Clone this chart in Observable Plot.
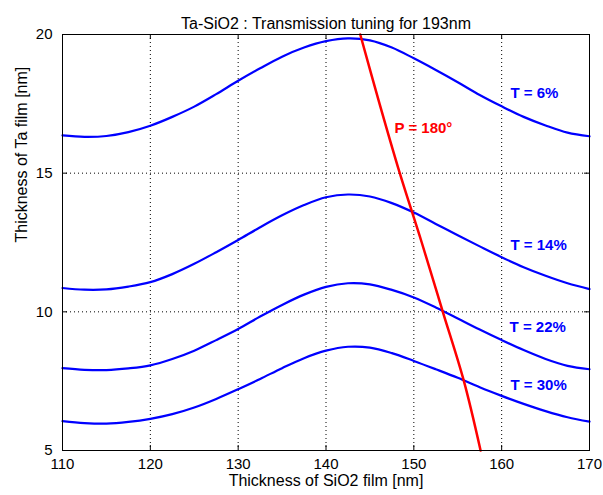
<!DOCTYPE html>
<html>
<head>
<meta charset="utf-8">
<script src="https://cdn.jsdelivr.net/npm/d3@7"></script>
<script src="https://cdn.jsdelivr.net/npm/@observablehq/plot@0.6"></script>
<style>
  html, body { margin: 0; padding: 0; background: #ffffff; }
  #chart svg { display: block; }
</style>
</head>
<body>
<div id="chart"></div>
<script>
// ---- data ----
const titleText = "Ta-SiO2 : Transmission tuning for 193nm";
const xLabelText = "Thickness of SiO2 film [nm]";
const yLabelText = "Thickness of Ta film [nm]";

const xTicks = [110, 120, 130, 140, 150, 160, 170];
const yTicks = [5, 10, 15, 20];

const sio2 = [110, 112.5, 115, 117.5, 120, 122.5, 125, 127.5, 130, 132.5, 135, 137.5, 140,
              142.5, 145, 147.5, 150, 152.5, 155, 157.5, 160, 162.5, 165, 167.5, 170];

const ta_T6  = [16.36, 16.31, 16.34, 16.48, 16.71, 17.03, 17.40, 17.85, 18.33, 18.78, 19.20, 19.53, 19.76,
                19.86, 19.79, 19.53, 19.14, 18.72, 18.28, 17.82, 17.41, 17.03, 16.72, 16.46, 16.33];
const ta_T14 = [10.86, 10.80, 10.81, 10.91, 11.07, 11.36, 11.73, 12.15, 12.59, 13.05, 13.48, 13.85, 14.13,
                14.23, 14.16, 13.92, 13.58, 13.17, 12.76, 12.36, 11.97, 11.61, 11.30, 11.03, 10.82];
const ta_T22 = [7.97, 7.91, 7.90, 7.96, 8.07, 8.30, 8.60, 8.98, 9.38, 9.83, 10.25, 10.62, 10.90,
                11.03, 10.99, 10.79, 10.52, 10.16, 9.76, 9.36, 8.98, 8.62, 8.30, 8.05, 7.93];
const ta_T30 = [6.06, 5.99, 5.97, 6.03, 6.14, 6.31, 6.55, 6.86, 7.21, 7.58, 7.97, 8.33, 8.60,
                8.74, 8.71, 8.51, 8.23, 7.93, 7.62, 7.28, 6.97, 6.68, 6.42, 6.20, 6.04];

const seriesNames = ["T = 6%", "T = 14%", "T = 22%", "T = 30%"];
const seriesValues = [ta_T6, ta_T14, ta_T22, ta_T30];
const seriesLabelX = [161.0, 161.0, 160.9, 161.0];
const seriesLabelY = [17.87, 12.39, 9.44, 7.37];

const phaseName = "P = 180°";
const phaseX = [143.9, 146.1, 148.4, 150.9, 153.3, 155.7, 157.6];
const phaseY = [20.0, 17.5, 15.0, 12.5, 10.0, 7.5, 5.0];
const phaseLabelX = 147.8;
const phaseLabelY = 16.61;

// ---- tables built from the arrays ----
const curves = seriesNames.flatMap((name, k) =>
  sio2.map((x, i) => ({series: name, x, y: seriesValues[k][i]})));
const phase = phaseX.map((x, i) => ({x, y: phaseY[i]}));
const seriesLabels = seriesNames.map((name, k) => ({name, x: seriesLabelX[k], y: seriesLabelY[k]}));

const W = 603, H = 495;
const mL = 62, mR = 14, mT = 34, mB = 45;
const frameW = W - mL - mR, frameH = H - mT - mB;
const font = "'Liberation Sans', Arial, Helvetica, sans-serif";

const chart = Plot.plot({
  width: W,
  height: H,
  marginLeft: mL,
  marginRight: mR,
  marginTop: mT,
  marginBottom: mB,
  style: {fontFamily: font, background: "#ffffff", color: "#000"},
  x: {domain: [110, 170]},
  y: {domain: [5, 20]},
  marks: [
    Plot.gridX(xTicks.slice(1, -1), {stroke: "#000", strokeOpacity: 1, strokeDasharray: "1,3", strokeWidth: 1}),
    Plot.gridY(yTicks.slice(1, -1), {stroke: "#000", strokeOpacity: 1, strokeDasharray: "1,3", strokeWidth: 1}),
    Plot.line(curves, {x: "x", y: "y", z: "series", stroke: "#0000ff", strokeWidth: 2.2, curve: "catmull-rom"}),
    Plot.line(phase, {x: "x", y: "y", stroke: "#ff0000", strokeWidth: 2.5, curve: "catmull-rom"}),
    Plot.frame({stroke: "#000", strokeWidth: 1}),
    // inward ticks on all four sides
    Plot.tickX(xTicks, {x: d => d, stroke: "#000", insetTop: frameH - 5}),
    Plot.tickX(xTicks, {x: d => d, stroke: "#000", insetBottom: frameH - 5}),
    Plot.tickY(yTicks, {y: d => d, stroke: "#000", insetRight: frameW - 5}),
    Plot.tickY(yTicks, {y: d => d, stroke: "#000", insetLeft: frameW - 5}),
    Plot.axisX(xTicks, {anchor: "bottom", tickSize: 0, tickPadding: 8, fontSize: 15, label: null, fill: "#000"}),
    Plot.axisY(yTicks, {anchor: "left", tickSize: 0, tickPadding: 10, fontSize: 15, label: null, fill: "#000"}),
    Plot.text([titleText], {frameAnchor: "top", dy: -16.5, fontSize: 16, fill: "#000", text: d => d}),
    Plot.text([xLabelText], {frameAnchor: "bottom", dy: 35, fontSize: 16, fill: "#000", text: d => d}),
    Plot.text([yLabelText], {frameAnchor: "left", dx: -41, rotate: -90, fontSize: 16, fill: "#000", text: d => d}),
    Plot.text(seriesLabels, {x: "x", y: "y", text: "name", textAnchor: "start", fill: "#0000ff", fontWeight: "bold", fontSize: 15}),
    Plot.text([phaseName], {x: () => phaseLabelX, y: () => phaseLabelY, text: d => d, textAnchor: "start", fill: "#ff0000", fontWeight: "bold", fontSize: 15})
  ]
});

document.getElementById("chart").appendChild(chart);
</script>
</body>
</html>
